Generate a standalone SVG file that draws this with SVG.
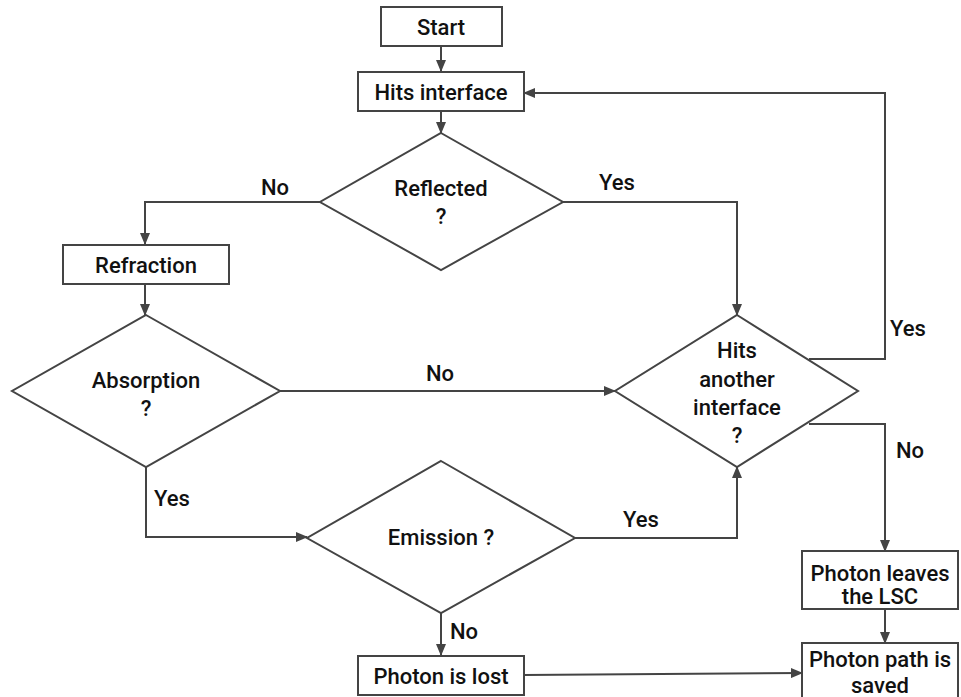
<svg xmlns="http://www.w3.org/2000/svg" width="961" height="697" viewBox="0 0 961 697">
<style>
.n{fill:#fff;stroke:#444;stroke-width:2}
.c{fill:none;stroke:#444;stroke-width:2}
text{font-family:Roboto,"Liberation Sans",sans-serif;font-size:22px;font-weight:500;fill:#111;text-anchor:middle}
</style>
<defs>
<marker id="a" markerWidth="12" markerHeight="10" refX="11" refY="5" orient="auto" markerUnits="userSpaceOnUse">
<path d="M0,0 L12,5 L0,10 Z" fill="#444"/>
</marker>
</defs>
<rect width="961" height="697" fill="#fff"/>
<g id="connectors" class="c" marker-end="url(#a)">
<path d="M441,46 V71"/>
<path d="M441,111 V133"/>
<path d="M320,202 H145 V244"/>
<path d="M145,284 V315"/>
<path d="M563,202 H737 V315"/>
<path d="M280,391 H615"/>
<path d="M809,359 H885 V93 H524"/>
<path d="M809,424 H885 V551"/>
<path d="M146,467 V537 H307"/>
<path d="M575,538 H737 V467"/>
<path d="M441,613 V655"/>
<path d="M524,675 L802,673"/>
<path d="M885,609 V643"/>
</g>
<g id="labels">
<text x="275" y="195">No</text>
<text x="617" y="190">Yes</text>
<text x="440" y="381">No</text>
<text x="908" y="336">Yes</text>
<text x="910" y="458">No</text>
<text x="172" y="506">Yes</text>
<text x="641" y="527">Yes</text>
<text x="464" y="639">No</text>
</g>
<g id="start"><rect class="n" x="381" y="7" width="121" height="39"/><text x="441" y="35">Start</text></g>
<g id="hits"><rect class="n" x="358" y="72" width="166" height="39"/><text x="441" y="100">Hits interface</text></g>
<g id="reflected"><polygon class="n" points="441,133 563,202 441,270 320,202"/><text x="441" y="196">Reflected</text><text x="441" y="224">?</text></g>
<g id="refraction"><rect class="n" x="63" y="245" width="166" height="39"/><text x="146" y="273">Refraction</text></g>
<g id="absorption"><polygon class="n" points="146,315 280,391 146,467 12,391"/><text x="146" y="388">Absorption</text><text x="146" y="416">?</text></g>
<g id="another"><polygon class="n" points="737,315 858,391 737,467 615,391"/><text x="737" y="358">Hits</text><text x="737" y="387">another</text><text x="737" y="415">interface</text><text x="737" y="443">?</text></g>
<g id="emission"><polygon class="n" points="441,461 575,538 441,613 307,538"/><text x="441" y="545">Emission ?</text></g>
<g id="lost"><rect class="n" x="358" y="656" width="166" height="39"/><text x="441" y="684">Photon is lost</text></g>
<g id="leaves"><rect class="n" x="802" y="551" width="156" height="58"/><text x="880" y="581">Photon leaves</text><text x="880" y="604">the LSC</text></g>
<g id="saved"><rect class="n" x="802" y="643" width="156" height="60"/><text x="880" y="667">Photon path is</text><text x="880" y="693">saved</text></g>
</svg>
